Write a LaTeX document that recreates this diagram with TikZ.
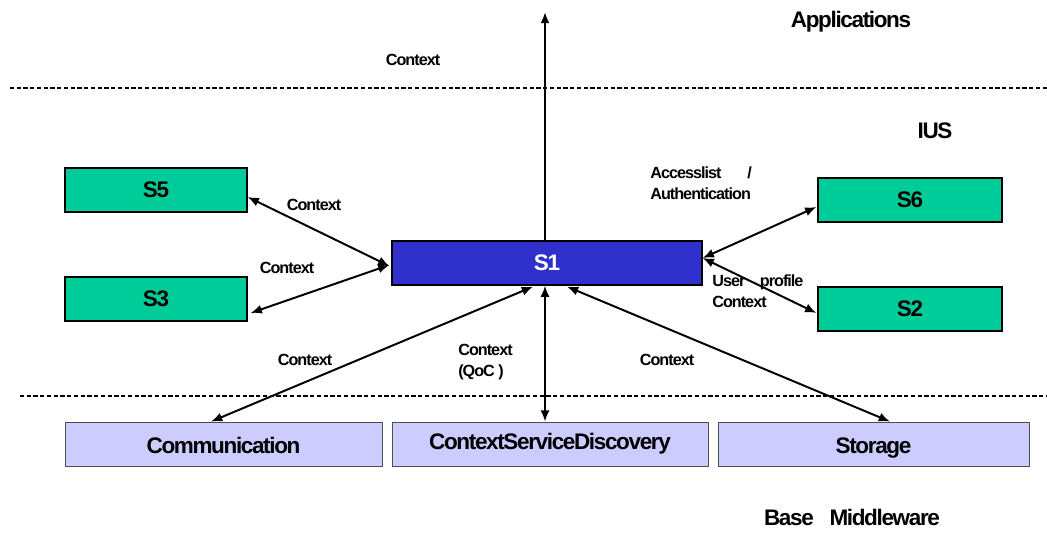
\documentclass[tikz,border=0pt]{standalone}
\usepackage{fontspec}
\setmainfont{Liberation Sans}
\usetikzlibrary{calc,arrows.meta}
\definecolor{svcblue}{HTML}{3030CC}
\definecolor{svcgreen}{HTML}{00CC99}
\definecolor{basebox}{HTML}{CCCCFF}
\begin{document}
\begin{tikzpicture}[x=0.025cm,y=-0.025cm,
	svc/.style={draw,line width=0.9pt,minimum width=4.55cm,minimum height=1.1cm,font=\fontsize{16}{18}\bfseries\addfontfeatures{LetterSpace=-5}},
	layer/.style={draw=black!70,line width=0.6pt,fill=basebox,minimum height=1.1cm,text height=14pt,text depth=0pt,font=\fontsize{16}{18}\bfseries\addfontfeatures{LetterSpace=-6}},
	lbl/.style={font=\fontsize{11.5}{15}\bfseries\addfontfeatures{LetterSpace=-6},inner sep=0pt},
	big/.style={font=\fontsize{16}{18}\bfseries\addfontfeatures{LetterSpace=-6},inner sep=0pt},
	link/.style={{Latex[length=8pt,width=6.5pt]}-{Latex[length=8pt,width=6.5pt]},line width=1.4pt},
	sep/.style={line width=0.9pt,dash pattern=on 3pt off 1.8pt}]
	\useasboundingbox (0,0) rectangle (1047,558);
	% draw the layer separators
	\draw[sep] (10,88) -- (1047,88);
	\draw[sep] (20,396) -- (1047,396);
	% draw the services
	\node[svc,fill=svcblue,text=white,minimum width=7.75cm] (s1) at (547,263) {S1};
	\node[svc,fill=svcgreen] (s5) at (156,190) {S5};
	\node[svc,fill=svcgreen] (s3) at (156,299) {S3};
	\node[svc,fill=svcgreen,minimum width=4.6cm] (s6) at (910,200) {S6};
	\node[svc,fill=svcgreen,minimum width=4.6cm] (s2) at (910,309) {S2};
	% base middleware boxes
	\node[layer,minimum width=7.925cm] (comm) at (223.5,444) {Communication};
	\node[layer,minimum width=7.9cm,text depth=6pt] (csd) at (550,444) {ContextServiceDiscovery};
	\node[layer,minimum width=7.775cm] (store) at (873.5,444) {Storage};
	% layer names
	\node[big] (apps) at (851,22) {Applications};
	\node[big] (ius) at (935,131) {IUS};
	\node[big] (base) at (852,517) {Base\hspace{0.7em}Middleware};
	% connectors
	\coordinate (top) at (545,12);
	\draw[-{Latex[length=8pt,width=6.5pt]},line width=1.5pt] (s1.north -| top) -- (top);
	\draw[link] ($(s5.east)+(0,7)$) -- ($(s1.west)+(-2,3)$);
	\draw[link] ($(s3.east)+(3,14)$) -- ($(s1.west)+(-2,2)$);
	\draw[link] ($(s1.east)+(0,-5)$) -- ($(s6.west)+(-1,7)$);
	\draw[link] ($(s1.east)+(0,-5)$) -- ($(s2.west)+(-1,4)$);
	\draw[link] ($(s1.south)+(-14,1)$) -- (comm.north -| 211,0);
	\draw[link] (s1.south -| top) -- (csd.north -| top);
	\draw[link] ($(s1.south)+(20,1)$) -- (store.north -| 890,0);
	% connector labels
	\node[lbl] (lctx) at (413,60) {Context};
	\node[lbl] (l5) at (314,205) {Context};
	\node[lbl] (l3) at (287,268) {Context};
	\node[lbl,anchor=west,align=left] (l6) at (650,183) {Accesslist\hspace{1.6em}/\\Authentication};
	\node[lbl,anchor=west,align=left] (l2) at (712,291) {User\hspace{0.9em}profile\\Context};
	\node[lbl] (lcomm) at (305,360) {Context};
	\node[lbl,anchor=west,align=left] (lqoc) at (458,362) {Context\\(QoC )};
	\node[lbl] (lstore) at (667,360) {Context};
\end{tikzpicture}
\end{document}
